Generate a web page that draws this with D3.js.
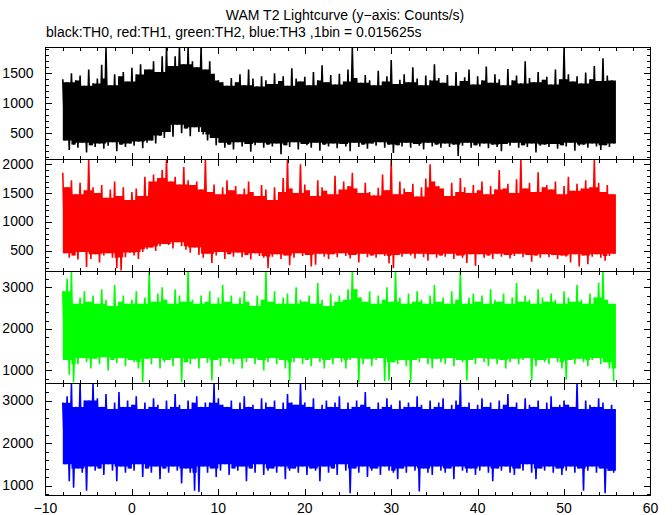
<!DOCTYPE html>
<html><head><meta charset="utf-8">
<script src="https://cdn.jsdelivr.net/npm/d3@7/dist/d3.min.js"></script>
<style>
body{margin:0;background:#fff}
svg{display:block}
text{font-family:"Liberation Sans",Arial,Helvetica,sans-serif;font-size:14px;fill:#000}
</style>
</head><body>
<script>
// ---------- text ----------
const titleText = "WAM T2 Lightcurve (y\u2212axis: Counts/s)";
const subtitleText = "black:TH0, red:TH1, green:TH2, blue:TH3 ,1bin = 0.015625s";

// ---------- time binning of the read-off values (s) ----------
const binStart = -8;
const binWidth = 0.5;   // max/min samples per 0.5 s
const dataEnd = 56;

// ---------- per-bin max / min samples (Counts/s) ----------
const th0Hi = [1400,1350,1500,1380,1460,1290,1560,1330, 1410,1640,1920,1300,1480,1450,1520,1360,
  1590,1480,1650,1560,1560,1700,1520,1780, 1928,1620,1780,1928,1650,1928,1700,1600,
  1928,1560,1700,1490,1380,1350,1290,1420, 1350,1480,1300,1560,1410,1280,1450,1380,
  1320,1500,1370,1450,1290,1580,1410,1360, 1440,1300,1520,1380,1630,1350,1470,1310,
  1490,1360,1560,1928,1420,1340,1470,1380, 1300,1540,1360,1450,1720,1320,1390,1480,
  1350,1600,1410,1300,1460,1380,1650,1420, 1340,1470,1290,1520,1370,1430,1560,1310,
  1450,1380,1610,1340,1480,1400,1300,1570, 1380,1460,1330,1700,1420,1350,1520,1390,
  1440,1310,1560,1400,1928,1480,1360,1450, 1330,1510,1400,1620,1370,1750,1460,1380];
const th0Lo = [380,220,310,260,340,180,300,270, 330,240,290,350,200,310,270,330,
  290,360,250,340,380,330,460,420, 520,440,640,500,580,450,600,520,
  480,380,420,300,340,260,310,230, 350,280,320,190,300,340,260,310,
  280,330,150,300,270,350,230,320, 300,260,340,210,310,280,330,250,
  320,280,200,340,270,310,240,330, 290,350,260,310,170,300,280,340,
  260,320,290,230,340,280,310,260, 330,270,310,120,290,340,260,300,
  280,330,250,310,270,200,320,290, 340,260,300,270,330,180,290,310,
  270,320,240,300,280,340,210,290, 310,260,330,280,220,300,270,330];

const th1Hi = [1850,1600,1720,1480,1680,1550,2081,1600, 1500,1640,1420,1560,1700,1450,1600,1380,
  1520,1580,1450,1780,1700,1820,1760,1900, 2081,1700,1780,1650,1950,1720,1640,1700,
  1560,2081,1520,1650,1480,1600,1720,1550, 1620,1480,1580,1700,1520,1450,1640,1560,
  1380,1600,1520,1760,2081,1580,1500,2000, 1650,1550,1450,1720,1600,1540,1480,1800,
  1560,1700,1620,1850,1580,1500,1680,1520, 1460,1590,1820,1550,2081,1480,1700,1580,
  1520,1660,1440,1600,1750,2000,1700,1620, 1580,1450,1680,1520,1760,1600,1500,1640,
  1550,1700,1480,1620,1560,1900,1580,1660, 1500,1740,2081,1580,1680,1520,1860,1600,
  1640,1560,1700,1480,1620,1780,1540,1660, 1580,1720,1600,2081,1680,1520,1640,1480];
const th1Lo = [460,380,420,350,480,220,360,440, 300,420,460,380,200,160,390,470,
  420,360,480,530,560,500,580,620, 600,540,650,580,520,470,560,430,
  380,450,290,420,480,360,440,400, 470,390,430,350,460,410,380,200,
  400,440,360,420,250,380,460,410, 430,230,260,450,400,360,440,390,
  460,410,370,430,300,450,390,420, 380,440,410,280,200,430,400,450,
  420,370,450,390,330,440,380,420, 400,450,360,420,380,290,440,240,
  440,380,420,360,450,400,430,370, 410,450,390,430,310,420,380,440,
  390,430,360,420,400,300,440,230, 420,270,400,440,380,330,410,450];

const th2Hi = [2900,3200,3376,2600,2750,2900,2650,2800, 2600,2950,2700,2550,3050,2650,2800,2600,
  2700,2900,2600,2750,3376,2650,2850,3000, 2700,2600,2950,2800,2650,3376,2700,2600,
  2800,2650,2900,2600,2750,3050,2650,2800, 2600,2750,2900,2650,2550,2800,2700,3376,
  2650,2900,2600,2750,2850,2600,3000,2700, 2650,2800,2600,3100,2700,2550,2850,2650,
  2800,2700,2950,3376,2950,2750,2650,2900, 2600,2800,2700,3000,2650,3376,2750,2600,
  2850,2650,2900,2700,2600,2800,3050,2650, 2750,2600,2900,2700,3376,2600,2750,2850,
  2650,2800,2600,2950,2700,2650,2850,2600, 2750,3100,2650,2800,2700,2600,2950,2750,
  2650,2850,2700,2600,2900,2750,2650,3050, 2700,2600,2850,2750,3100,3376,2700,2600];
const th2Lo = [1250,900,720,1150,1300,1200,1050,1280, 1150,1320,1000,1250,1180,1300,1100,1250,
  1200,1050,720,1280,1150,1300,1050,1200, 1250,1100,1300,720,1200,1150,1280,1050,
  1300,1180,760,1250,1100,1300,1200,1150, 1280,1050,1200,1300,1150,1250,1000,1200,
  1300,1150,1250,1050,750,1200,1300,1150, 1250,1100,1300,1200,1050,1250,1150,1300,
  1200,1050,1250,1300,720,1150,1280,1100, 1250,1300,740,760,1200,1150,1250,1100,
  720,1250,1200,1300,1150,1050,1280,1200, 1150,1300,1100,1250,1200,760,1250,1150,
  1300,1200,1100,1280,1150,1250,1050,1200, 1280,1150,1250,1300,760,1100,1250,1200,
  1150,1300,1200,1050,780,1250,1150,1280, 1200,1100,1250,1300,1150,1200,1050,740];

const th3Hi = [2950,3100,3400,2850,3400,3000,3000,3400, 3050,2850,3150,2800,2950,3200,2850,3000,
  2900,3100,2800,2950,2850,3050,2900,2800, 3000,2850,3150,2900,2800,3000,2950,3100,
  2850,2950,2950,3400,3050,2900,2850,3000, 2800,2950,3100,2850,2900,2800,3050,2950,
  2850,3000,2800,2950,3150,2950,2900,3400, 2950,2850,3050,2800,2900,3000,2850,2950,
  3100,2800,2950,2850,3000,2900,3200,2850, 2800,2950,2850,3050,2900,2800,3000,2850,
  2950,2850,3100,2900,2800,3000,2850,2950, 3050,2800,2900,3000,3400,2850,2950,2800,
  2900,3050,2850,2950,2800,3000,2900,3150, 2850,2950,2800,3050,2900,2850,3000,2800,
  2950,3100,2850,2900,3000,2900,2850,3400, 2800,3000,2900,2850,3050,2950,2800,2900];
const th3Lo = [1500,1100,950,1400,1300,880,1450,1350, 1400,1250,1500,1350,1100,1450,1300,1400,
  1350,1500,1200,1400,1300,1450,1150,1400, 1300,1450,1350,1050,1400,1300,880,850,
  1450,1300,1400,1200,1350,1500,1250,1400, 1350,1450,1100,1400,1300,1500,1250,1350,
  1400,1300,1450,1150,1350,1400,1300,1450, 1250,1400,1350,1100,1450,1300,1400,1250,
  1500,1350,820,1400,1300,1450,1200,1350, 1400,1250,1450,1350,1300,1150,1400,1300,
  1450,1350,860,1400,1300,1250,1450,1350, 1300,1400,1150,1450,1350,1300,1400,1250,
  1350,1450,1300,1100,1400,1350,1450,1300, 1250,1400,1350,1500,1300,1150,1400,1350,
  1450,1300,1400,1250,1350,1450,1300,1400, 880,1350,1450,1300,1400,820,1350,1300];

// ---------- axes ----------
const xDomain = [-10, 60];
const xTickLabels = [-10, 0, 10, 20, 30, 40, 50, 60];
const th0Domain = [62, 1928],  th0Ticks = [500, 1000, 1500];
const th1Domain = [143, 2081], th1Ticks = [500, 1000, 1500, 2000];
const th2Domain = [688, 3376], th2Ticks = [1000, 2000, 3000];
const th3Domain = [765, 3400], th3Ticks = [1000, 2000, 3000];

const panels = [
  {hi: th0Hi, lo: th0Lo, domain: th0Domain, ticks: th0Ticks, minor: 100, color: "#000000"},
  {hi: th1Hi, lo: th1Lo, domain: th1Domain, ticks: th1Ticks, minor: 100, color: "#ff0000"},
  {hi: th2Hi, lo: th2Lo, domain: th2Domain, ticks: th2Ticks, minor: 200, color: "#00ff00"},
  {hi: th3Hi, lo: th3Lo, domain: th3Domain, ticks: th3Ticks, minor: 200, color: "#0000ff"}
];

// ---------- layout ----------
const W = 672, H = 515;
const left = 45.5, right = 650.5;
const top0 = 47.5, panelH = 112;
const majorLen = 6.5, minorLen = 3.5;

const svg = d3.select("body").append("svg").attr("width", W).attr("height", H);
const x = d3.scaleLinear().domain(xDomain).range([left, right]);

svg.append("text").attr("x", 345).attr("y", 20).attr("text-anchor", "middle").text(titleText);
svg.append("text").attr("x", 46).attr("y", 37).text(subtitleText);

const defs = svg.append("defs");

panels.forEach((p, k) => {
  const y0 = top0 + k * panelH, y1 = y0 + panelH;
  const y = d3.scaleLinear().domain(p.domain).range([y1, y0]);
  const g = svg.append("g");

  defs.append("clipPath").attr("id", "clip" + k)
    .append("rect").attr("x", left).attr("y", y0).attr("width", right - left).attr("height", panelH);

  const dg = g.append("g").attr("clip-path", "url(#clip" + k + ")");

  // dense part of the band: where neighbouring bins overlap (rolling 3-bin min of max, max of min)
  const n = p.hi.length;
  const band = p.hi.map((h, i) => {
    const a = Math.max(0, i - 1), b = Math.min(n - 1, i + 1);
    return {
      t: binStart + i * binWidth,
      hi: d3.min(p.hi.slice(a, b + 1)),
      lo: d3.max(p.lo.slice(a, b + 1))
    };
  });
  band.push({t: dataEnd, hi: band[n - 1].hi, lo: band[n - 1].lo});
  dg.append("path").datum(band)
    .attr("fill", p.color)
    .attr("d", d3.area().x(d => x(d.t)).y0(d => y(d.lo)).y1(d => y(d.hi)).curve(d3.curveStepAfter));

  // light curve trace: max then min sample of each 0.5 s bin, joined in time order
  const trace = [];
  p.hi.forEach((h, i) => {
    const t = binStart + i * binWidth;
    trace.push({t: t, v: h});
    trace.push({t: t + binWidth / 2, v: p.lo[i]});
  });
  dg.append("path").datum(trace)
    .attr("fill", "none")
    .attr("stroke", p.color)
    .attr("stroke-width", 1.6)
    .attr("stroke-linejoin", "bevel")
    .attr("d", d3.line().x(d => x(d.t)).y(d => y(d.v)));

  // frame
  g.append("rect").attr("x", left).attr("y", y0).attr("width", right - left).attr("height", panelH)
    .attr("fill", "none").attr("stroke", "#000").attr("stroke-width", 1);

  // y ticks (left & right, inward)
  const yMinor = d3.range(Math.ceil(p.domain[0] / p.minor) * p.minor, p.domain[1], p.minor);
  const tg = g.append("g").attr("stroke", "#000").attr("stroke-width", 1);
  yMinor.forEach(v => {
    const L = p.ticks.includes(v) ? majorLen : minorLen;
    const yy = Math.round(y(v)) + 0.5;
    tg.append("line").attr("x1", left).attr("x2", left + L).attr("y1", yy).attr("y2", yy);
    tg.append("line").attr("x1", right).attr("x2", right - L).attr("y1", yy).attr("y2", yy);
  });
  // x ticks (top & bottom of each panel, inward)
  d3.range(xDomain[0] + 2, xDomain[1], 2).forEach(v => {
    const L = xTickLabels.includes(v) ? majorLen : minorLen;
    const xx = Math.round(x(v)) + 0.5;
    tg.append("line").attr("x1", xx).attr("x2", xx).attr("y1", y0).attr("y2", y0 + L);
    tg.append("line").attr("x1", xx).attr("x2", xx).attr("y1", y1).attr("y2", y1 - L);
  });

  // y labels
  g.selectAll("text.yl").data(p.ticks).enter().append("text")
    .attr("class", "yl")
    .attr("x", 33.5)
    .attr("y", d => y(d) + 4.5)
    .attr("text-anchor", "end")
    .text(d => d);
});

// x labels under bottom panel
const xf = d3.format("d");
svg.selectAll("text.xl").data(xTickLabels).enter().append("text")
  .attr("class", "xl")
  .attr("x", d => x(d))
  .attr("y", 513)
  .attr("text-anchor", "middle")
  .text(d => xf(d));
</script>
</body></html>
